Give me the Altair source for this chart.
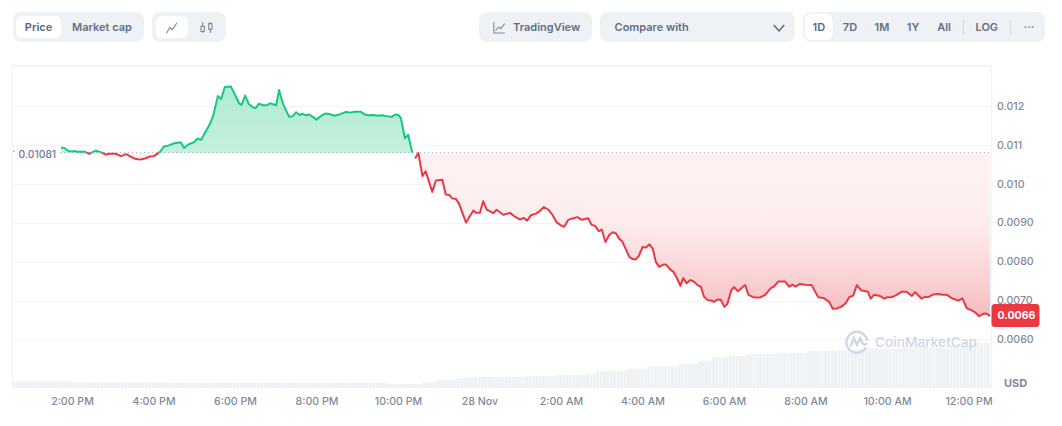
import altair as alt
import pandas as pd

# Time of each price sample, hours after midnight of 27 Nov
hours = [13.73,13.81,13.91,13.99,14.09,14.14,14.32,14.42,14.58,14.69,14.83,14.93,15.08,15.20,15.33,15.42,15.55,15.67,15.79,15.91,
16.01,16.16,16.26,16.36,16.51,16.67,16.75,16.85,17.00,17.07,17.17,17.40,17.47,17.58,17.66,17.75,17.90,18.00,18.10,18.16,
18.25,18.34,18.45,18.51,18.59,18.69,18.78,18.86,19.01,19.08,19.18,19.33,19.42,19.50,19.58,19.66,19.74,19.82,19.91,20.00,
20.13,20.23,20.33,20.43,20.58,20.72,20.82,20.94,21.09,21.19,21.27,21.39,21.49,21.60,21.72,21.85,21.93,22.01,22.07,22.17,
22.25,22.35,22.42,22.50,22.60,22.68,22.84,22.93,23.09,23.17,23.26,23.33,23.42,23.50,23.67,23.85,23.91,24.01,24.09,24.18,
24.34,24.42,24.58,24.75,24.87,24.99,25.09,25.17,25.26,25.39,25.48,25.58,25.69,25.79,25.89,25.99,26.08,26.18,26.26,26.40,
26.51,26.67,26.75,26.83,26.93,27.00,27.09,27.19,27.27,27.35,27.43,27.50,27.68,27.76,27.84,27.91,28.00,28.09,28.17,28.25,
28.33,28.41,28.51,28.58,28.67,28.76,28.84,28.93,29.00,29.08,29.18,29.26,29.35,29.43,29.51,29.59,29.70,29.75,29.84,29.92,
30.01,30.08,30.18,30.25,30.34,30.52,30.60,30.72,30.80,30.88,31.01,31.15,31.23,31.33,31.50,31.60,31.68,31.76,31.86,31.99,
32.15,32.31,32.44,32.58,32.67,32.77,32.89,32.99,33.07,33.17,33.26,33.36,33.53,33.60,33.68,33.83,33.93,34.01,34.12,34.24,
34.36,34.48,34.61,34.69,34.85,34.93,35.01,35.14,35.26,35.36,35.47,35.59,35.75,35.85,35.96,36.08,36.16,36.26,36.39,36.45,36.53]

# Price in units of 0.00001 USD
price_e5 = [1094,1093,1085,1084,1085,1083,1083,1078,1086,1083,1076,1078,1078,1072,1077,1072,1065,1063,1066,1071,
1072,1083,1097,1099,1105,1108,1093,1102,1108,1117,1114,1158,1178,1227,1219,1250,1251,1230,1208,1204,
1228,1206,1197,1196,1207,1203,1203,1208,1203,1242,1206,1173,1175,1185,1178,1181,1177,1179,1173,1166,
1177,1182,1180,1176,1180,1186,1184,1186,1186,1179,1177,1178,1176,1177,1175,1173,1179,1178,1170,1118,
1127,1081,1066,1080,1021,1033,980,1009,1011,973,972,963,962,949,901,932,926,926,956,934,
925,934,921,926,916,909,913,906,920,924,931,941,934,921,902,894,890,908,911,915,
908,912,895,893,879,883,851,870,876,873,859,853,812,807,806,815,838,837,845,834,
799,787,793,793,781,774,759,738,758,745,753,749,740,736,710,702,700,697,703,702,
684,691,727,735,724,740,715,709,708,708,715,732,737,749,749,736,741,736,743,741,
740,709,707,697,679,680,685,694,709,713,740,727,723,705,715,712,705,709,709,715,
723,723,712,722,705,710,709,716,717,715,715,706,700,706,680,675,670,660,667,666,660]

# Volume steps read from the bottom strip, in plot pixels of bar height, with how many 5 minute bars hold each level
vol_levels = [5.7,4.7,4.2,3.2,5,7.5,9,10.3,11,12,13.5,16,18,20.5,23,26,29.5,31,33,34.5,36,37.5,38.5,39.5,41,44]
vol_counts = [17,29,65,10,4,6,4,16,9,9,3,9,6,9,6,4,4,6,9,9,9,6,12,15,6,6]

tick_hours = [14,16,18,20,22,24,26,28,30,32,34,36]
tick_labels = ["2:00 PM","4:00 PM","6:00 PM","8:00 PM","10:00 PM","28 Nov","2:00 AM","4:00 AM","6:00 AM","8:00 AM","10:00 AM","12:00 PM"]
price_ticks = [0.006,0.007,0.008,0.009,0.010,0.011,0.012]
base_price = 0.01081
last_price = 0.0066

GREEN, RED = "#16c784", "#ea3943"
FONT = "Inter"
X_DOMAIN = [12.528, 36.552]
Y_DOMAIN = [0.004777, 0.01304]
OX, OY = 12, 66   # plot origin on the page

prices = [p / 1e5 for p in price_e5]

# split at base crossings
rows = []
run = 0
for i, (h, p) in enumerate(zip(hours, prices)):
    if i:
        h0, p0 = hours[i - 1], prices[i - 1]
        if (p0 - base_price) * (p - base_price) < 0:
            hc = h0 + (base_price - p0) / (p - p0) * (h - h0)
            side = "up" if p0 > base_price else "down"
            rows.append(dict(h=hc, p=base_price, side=side, run=run))
            run += 1
            rows.append(dict(h=hc, p=base_price, side="down" if side == "up" else "up", run=run))
    rows.append(dict(h=h, p=p, side="up" if p >= base_price else "down", run=run))
df = pd.DataFrame(rows)
df["upper"] = df["p"].clip(lower=base_price)
df["lower"] = df["p"].clip(upper=base_price)
df["base"] = base_price

vols = []
for lv, n in zip(vol_levels, vol_counts):
    vols += [lv] * n
vol_df = pd.DataFrame({"h": [X_DOMAIN[0] + (i + 0.5) / 12 for i in range(len(vols))], "v": vols})

xs = alt.Scale(domain=X_DOMAIN, nice=False, zero=False, padding=0)
ys = alt.Scale(domain=Y_DOMAIN, nice=False, zero=False)

label_map = "{" + ",".join(f"'{h}':'{l}'" for h, l in zip(tick_hours, tick_labels)) + "}"
x_axis = alt.Axis(values=tick_hours, labelExpr=f"{label_map}[datum.value]", title=None, grid=False, domain=False,
                  ticks=False, labelFont=FONT, labelFontSize=10.6, labelColor="#808a9d", labelPadding=9, labelFontWeight=500,
                  labelOverlap=False, labelFlush=False)
y_axis = alt.Axis(values=price_ticks, orient="right", title=None, domain=False, ticks=False, grid=True,
                  gridColor="#f1f3f6", gridWidth=1, labelFont=FONT, labelFontSize=10.6, labelColor="#808a9d",
                  labelFontWeight=500, labelPadding=5.5, labelOverlap=False,
                  labelExpr="datum.value >= 0.00999 ? format(datum.value, '.3f') : format(datum.value, '.4f')")
X = alt.X("h:Q", scale=xs, axis=x_axis)


def grad(stops):
    return alt.Gradient(gradient="linear", x1=1, x2=1, y1=0, y2=1,
                        stops=[alt.GradientStop(offset=o, color=c) for o, c in stops])


def rect(x0, x1, y0, y1, fill, radius=0):
    return alt.Chart().mark_rect(fill=fill, cornerRadius=radius).encode(
        x=alt.value(x0 - OX), x2=alt.value(x1 - OX), y=alt.value(y0 - OY), y2=alt.value(y1 - OY))


def text(s, x, y, color="#616e85", size=11, weight=600, align="center"):
    return alt.Chart().mark_text(font=FONT, fontSize=size, fontWeight=weight, color=color, align=align, baseline="middle").encode(
        x=alt.value(x - OX), y=alt.value(y - OY), text=alt.value(s))


def icon(path, x, y, size, color="#808a9d", width=1.1):
    return alt.Chart().mark_point(shape=path, size=size, filled=False, stroke=color, strokeWidth=width, opacity=1).encode(
        x=alt.value(x - OX), y=alt.value(y - OY))


volume = alt.Chart(vol_df).mark_bar(width=3.1, color="#eff2f5").encode(
    x=X, y=alt.Y("v:Q", scale=alt.Scale(domain=[0, 321], nice=False), axis=None))

green_area = alt.Chart(df).mark_area(color=grad([(0, "#b0ebd2"), (1, "#c4f0dd")])).encode(
    x=X, y=alt.Y("upper:Q", scale=ys, axis=y_axis), y2="base:Q")
red_area = alt.Chart(df).mark_area(color=grad([(0, "#fdf2f3"), (0.25, "#fdf0f1"), (0.43, "#fdeced"),
                                               (0.67, "#fbdadc"), (0.9, "#f7c6c8"), (1, "#f5bcbf")])).encode(
    x=X, y=alt.Y("lower:Q", scale=ys, axis=None), y2="base:Q")
base_rule = alt.Chart(pd.DataFrame({"h": [13.71], "h1": [X_DOMAIN[1]], "b": [base_price]})).mark_rule(
    color="#9aa3b5", strokeDash=[1, 3], strokeWidth=1).encode(
    x=X, x2="h1:Q", y=alt.Y("b:Q", scale=ys, axis=None))
line = alt.Chart(df).mark_line(strokeWidth=2, strokeJoin="round").encode(
    x=X, y=alt.Y("p:Q", scale=ys, axis=None), order="h:Q", detail="run:N",
    color=alt.Color("side:N", scale=alt.Scale(domain=["up", "down"], range=[GREEN, RED]), legend=None))

CMC_LOGO = ("M0.86,0.52 A1,1 0 1 1 0.98,-0.1 M-0.62,0.42 L-0.3,-0.36 L0,0.28 L0.3,-0.36 L0.52,0.1 Q0.68,0.42 0.98,0.1")
LINE_ICON = "M-1,1 L-0.35,-0.1 L0.1,0.3 L1,-1"
CANDLE_ICON = ("M-1,-0.2 L-0.4,-0.2 L-0.4,0.7 L-1,0.7 Z M-0.7,-1 L-0.7,-0.2 M-0.7,0.7 L-0.7,1 "
               "M0.4,-0.7 L1,-0.7 L1,0.3 L0.4,0.3 Z M0.7,-1 L0.7,-0.7 M0.7,0.3 L0.7,1")
TV_ICON = "M-1,-1 L-1,1 L1,1 M-0.7,0.55 L-0.1,-0.1 L0.25,0.2 L1,-0.7"
CHEVRON = "M-1,-0.55 L0,0.55 L1,-0.55"

CHROME_GREY = "#eff2f5"
TY = 27.5
chrome = [
    rect(13, 144, 12, 42, CHROME_GREY, 8), rect(16, 61, 16, 38, "#ffffff", 6),
    text("Price", 38.5, TY, "#58667e"), text("Market cap", 102, TY),
    rect(152, 226, 12, 42, CHROME_GREY, 8), rect(156, 188, 16, 38, "#ffffff", 6),
    icon(LINE_ICON, 171.7, 28, 110), icon(CANDLE_ICON, 206.5, 27.5, 121),
    rect(479, 592, 12, 42, CHROME_GREY, 8), icon(TV_ICON, 499.3, 27.5, 120), text("TradingView", 546.6, TY),
    rect(600, 795, 12, 42, CHROME_GREY, 8), text("Compare with", 651.6, TY), icon(CHEVRON, 779, 28, 110, "#58667e", 1.5),
    rect(803, 1045, 12, 42, CHROME_GREY, 8), rect(805, 832.5, 14, 40, "#ffffff", 6),
    text("1D", 818.8, TY, "#58667e"), text("7D", 850, TY), text("1M", 882, TY), text("1Y", 913, TY), text("All", 944, TY),
    rect(963, 964, 20, 35, "#cfd6e4"), text("LOG", 986.8, TY), rect(1010, 1011, 20, 35, "#cfd6e4"),
    text("···", 1029, TY, "#808a9d", 11, 700),
]

plot_frame = [rect(12, 991, 65, 67, "#f1f3f6")]
overlays = [
    rect(13, 14.5, 150.5, 152, "#c9a0a0"),
    text("0.01081", 18.6, 154.5, "#6f7b90", 10.3, 500, "left"),
    rect(991.5, 1039.5, 304, 327, RED, 3),
    text(f"{last_price:.4f}", 997.5, 316, "#ffffff", 10.5, 700, "left"),
    text("USD", 1015.5, 384, "#808a9d", 11, 700),
    icon(CMC_LOGO, 857, 342, 441, "#cfd6e4", 2.4),
    text("CoinMarketCap", 875, 343, "#cfd6e4", 13.7, 500, "left"),
]

chart = alt.layer(
    *plot_frame, volume, green_area, red_area, base_rule, line, *overlays, *chrome
).resolve_scale(y="independent", x="shared", color="independent").properties(
    width=979, height=321, background="#ffffff",
    padding={"left": 4, "top": 58, "right": 63, "bottom": 31},
    autosize=alt.AutoSizeParams(type="none"),
).configure_view(stroke="#f1f3f6", strokeWidth=1)

chart.save("out.html", embed_options={"renderer": "svg", "actions": False})
